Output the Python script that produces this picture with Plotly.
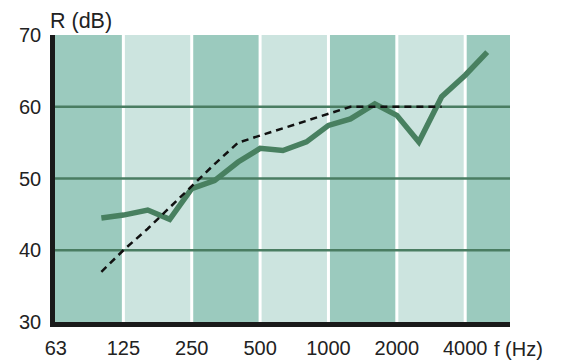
import math
import plotly.graph_objects as go

freqs = [100, 125, 160, 200, 250, 315, 400, 500, 630, 800, 1000, 1250, 1600, 2000, 2500, 3150, 4000, 5000]
measured = [44.5, 44.9, 45.6, 44.3, 48.6, 49.7, 52.3, 54.2, 53.9, 55.1, 57.4, 58.3, 60.4, 58.8, 55.1, 61.4, 64.4, 67.6]
ref_freqs = [100, 125, 160, 200, 250, 315, 400, 500, 630, 800, 1000, 1250, 1600, 2000, 2500, 3150]
ref_curve = [37, 40, 43, 46, 49, 52, 55, 56, 57, 58, 59, 60, 60, 60, 60, 60]
tick_freqs = [63, 125, 250, 500, 1000, 2000, 4000]
tick_labels = ["63", "125", "250", "500", "1000", "2000", "4000"]
y_ticks = [30, 40, 50, 60, 70]
band_edges = [62.5, 125, 250, 500, 1000, 2000, 4000, 6300]

DARK = "rgb(155,202,190)"
LIGHT = "rgb(204,228,223)"
GRID = "rgb(74,125,98)"
LINE = "rgb(72,128,96)"
FONT = "Liberation Sans, Arial, sans-serif"

fig = go.Figure()
fig.add_trace(go.Scatter(x=freqs, y=measured, mode="lines",
                         line=dict(color=LINE, width=5.5), hoverinfo="skip"))
fig.add_trace(go.Scatter(x=ref_freqs, y=ref_curve, mode="lines",
                         line=dict(color="#111", width=2.5, dash="7px,5px"), hoverinfo="skip"))

shapes = []
for i in range(len(band_edges) - 1):
    shapes.append(dict(type="rect", xref="x", yref="y", layer="below",
                       x0=band_edges[i], x1=band_edges[i + 1], y0=30, y1=70,
                       line=dict(width=0), fillcolor=DARK if i % 2 == 0 else LIGHT))
for e in band_edges[1:-1]:
    shapes.append(dict(type="line", xref="x", yref="y", layer="below",
                       x0=e, x1=e, y0=30, y1=70, line=dict(color="white", width=3)))
for g in [40, 50, 60]:
    shapes.append(dict(type="line", xref="x", yref="y", layer="below",
                       x0=band_edges[0], x1=band_edges[-1], y0=g, y1=g,
                       line=dict(color=GRID, width=2.5)))

fig.update_layout(
    width=564, height=361,
    margin=dict(l=55, r=54, t=35, b=39),
    paper_bgcolor="white", plot_bgcolor="white",
    showlegend=False,
    shapes=shapes,
    font=dict(family=FONT, size=20, color="#222"),
    xaxis=dict(type="log", range=[math.log10(band_edges[0]), math.log10(band_edges[-1])],
               tickvals=tick_freqs, ticktext=tick_labels, showgrid=False, zeroline=False,
               showline=True, linecolor="#1a1a1a", linewidth=4.5, ticks="",
               ticklabelstandoff=4, automargin=False),
    yaxis=dict(range=[30, 70], tickvals=y_ticks, showgrid=False, zeroline=False,
               showline=True, linecolor="#1a1a1a", linewidth=4.5, ticks="",
               ticklabelstandoff=5, automargin=False),
    annotations=[
        dict(text="R (dB)", xref="paper", yref="paper", x=-0.016, y=1, yshift=0,
             xanchor="left", yanchor="bottom", showarrow=False, font=dict(size=21.5)),
        dict(text="f (Hz)", xref="paper", yref="paper", x=0.96, y=0, yshift=-14,
             xanchor="left", yanchor="top", showarrow=False, font=dict(size=20)),
    ],
)

fig.write_html("out.html", config={"displayModeBar": False},
               post_script="document.body.style.margin='0px';")
